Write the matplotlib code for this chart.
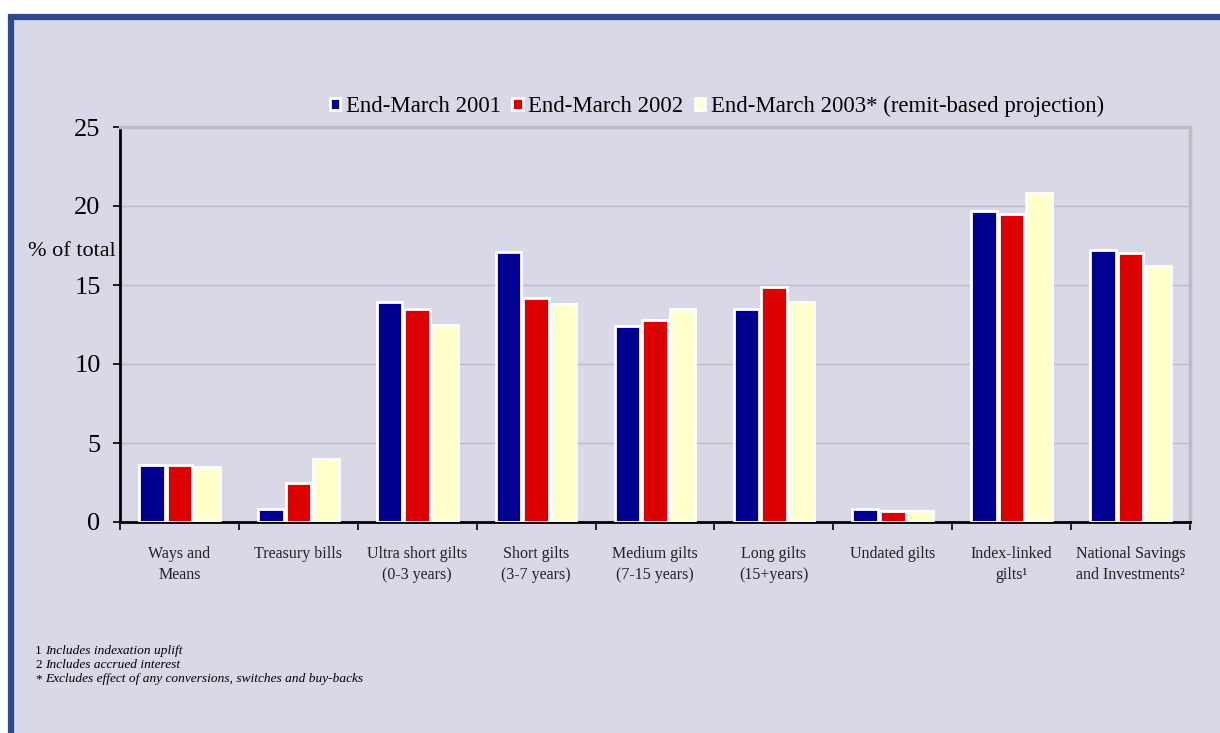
import matplotlib.pyplot as plt
import matplotlib.patches as mpatches
import numpy as np

# data (% of total)
categories = ['Ways and\nMeans', 'Treasury bills', 'Ultra short gilts\n(0-3 years)',
              'Short gilts\n(3-7 years)', 'Medium gilts\n(7-15 years)', 'Long gilts\n(15+years)',
              'Undated gilts', 'Index-linked\ngilts\u00b9', 'National Savings\nand Investments\u00b2']
mar_2001 = [3.6, 0.8, 13.9, 17.1, 12.4, 13.5, 0.8, 19.7, 17.2]
mar_2002 = [3.6, 2.5, 13.5, 14.2, 12.8, 14.9, 0.7, 19.5, 17.0]
mar_2003 = [3.5, 4.0, 12.5, 13.8, 13.5, 13.9, 0.7, 20.8, 16.2]
series_names = ['End-March 2001', 'End-March 2002', 'End-March 2003* (remit-based projection)']
footnotes = [('1', 'Includes indexation uplift'),
             ('2', 'Includes accrued interest'),
             ('*', 'Excludes effect of any conversions, switches and buy-backs')]

bg = '#D8D8E6'
colors = ['#000090', '#DD0000', '#FFFFCC']
plt.rcParams['font.family'] = ['Liberation Serif', 'DejaVu Serif']

W, H = 1220, 733
fig = plt.figure(figsize=(W / 100, H / 100), dpi=100)
fig.patch.set_facecolor('white')

# lavender panel with dark blue frame (right/bottom edges run off the image)
frame = mpatches.Rectangle((11 / W, -0.05), 1.1, 1 - 17 / H + 0.05,
                           transform=fig.transFigure, facecolor=bg,
                           edgecolor='#2A4A8C', linewidth=4.5, zorder=-5)
fig.patches.append(frame)

ax = fig.add_axes([120 / W, 1 - 522 / H, (1190 - 120) / W, (522 - 127) / H])
ax.set_zorder(2)
ax.set_facecolor(bg)

x = np.arange(len(categories))
bw = 0.215
step = 0.232
for i, (vals, c, name) in enumerate(zip([mar_2001, mar_2002, mar_2003], colors, series_names)):
    ax.bar(x + (i - 1) * step, vals, width=bw, color=c, edgecolor='white',
           linewidth=2, label=name, zorder=3)

ax.set_xlim(-0.5, len(categories) - 0.5)
ax.set_ylim(0, 25)
ax.set_yticks([0, 5, 10, 15, 20, 25])
ax.yaxis.grid(True, color='#BDBDBD', linewidth=1)
ax.set_axisbelow(True)
ax.tick_params(axis='y', direction='out', length=5, width=1.2, labelsize=19, pad=9)

ax.set_xticks(x)
ax.set_xticklabels(categories, fontsize=11.5, linespacing=1.45, color='#222222')
ax.set_xticks(np.arange(len(categories) + 1) - 0.5, minor=True)
ax.tick_params(axis='x', which='major', length=0, pad=17)
ax.tick_params(axis='x', which='minor', direction='out', length=6, width=1.2)

for s in ['top', 'right']:
    ax.spines[s].set_color('#BDBDBD')
    ax.spines[s].set_linewidth(2.5)
for s in ['left', 'bottom']:
    ax.spines[s].set_color('black')
    ax.spines[s].set_linewidth(2)

fig.text(28 / W, 1 - 251 / H, '% of total', fontsize=16, ha='left', va='center')

leg = ax.legend(loc='lower left', bbox_to_anchor=(330 / W, 1 - 117 / H),
                bbox_transform=fig.transFigure, ncol=3, frameon=False, fontsize=16.4,
                handlelength=0.45, handleheight=0.45, handletextpad=0.25,
                columnspacing=0.5, borderaxespad=0, borderpad=0)

for i, (mark, txt) in enumerate(footnotes):
    yy = 1 - (651 + i * 14) / H
    fig.text(35 / W, yy, mark, fontsize=9.6, va='center')
    fig.text(45 / W, yy, txt, fontsize=9.6, style='italic', va='center')

fig.savefig('out.png', dpi=100, facecolor=fig.get_facecolor())
